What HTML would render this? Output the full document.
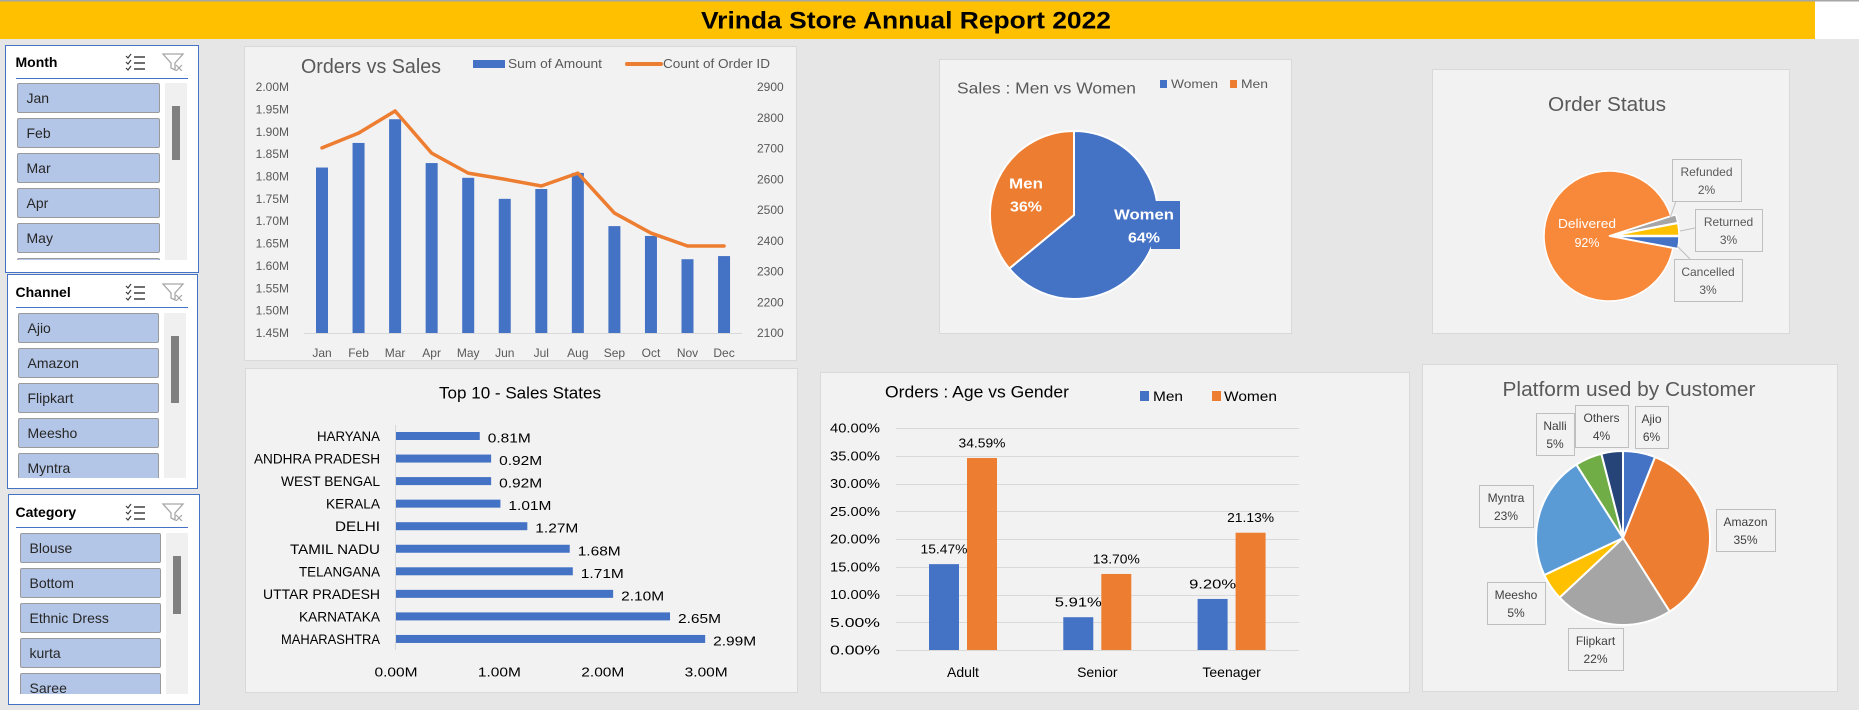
<!DOCTYPE html>
<html><head><meta charset="utf-8">
<style>
html,body{margin:0;padding:0;width:1859px;height:710px;overflow:hidden;background:#e6e6e6;font-family:"Liberation Sans",sans-serif;}
#root{position:relative;width:1859px;height:710px;}
svg{position:absolute;left:0;top:0;}
.slicer{position:absolute;background:#fff;border:1.5px solid #4472c4;box-sizing:border-box;}
.sl-head{position:absolute;font-weight:bold;font-size:14px;color:#000;}
.sl-line{position:absolute;height:1px;background:#4472c4;}
.sl-list{position:absolute;overflow:hidden;}
.sl-item{position:absolute;left:0;height:30px;box-sizing:border-box;background:#b4c6e7;border:1px solid #9a9a9a;border-radius:2px;font-size:14px;color:#262626;line-height:28px;padding-left:9px;}
.sl-track{position:absolute;background:#f0f0f0;}
.sl-thumb{position:absolute;background:#808080;}
</style></head>
<body>
<div id="root">
<svg id="chart" width="1859" height="710" viewBox="0 0 1859 710"></svg>
</div>
<script>
const NS='http://www.w3.org/2000/svg';
const svg=document.getElementById('chart');
const root=document.getElementById('root');

/* ---------- data ---------- */
const months=['Jan','Feb','Mar','Apr','May','Jun','Jul','Aug','Sep','Oct','Nov','Dec'];
const salesAmount=[1.82,1.875,1.928,1.83,1.797,1.75,1.772,1.808,1.689,1.667,1.615,1.622];
const orderCount=[2702,2750,2822,2685,2620,2600,2578,2620,2490,2425,2383,2383];
const leftTicks=[1.45,1.50,1.55,1.60,1.65,1.70,1.75,1.80,1.85,1.90,1.95,2.00];
const rightTicks=[2100,2200,2300,2400,2500,2600,2700,2800,2900];

const genderLabels=['Women','Men'];
const genderShares=[64,36];

const statusLabels=['Delivered','Refunded','Returned','Cancelled'];
const statusShares=[92,2,3,3];

const stateNames=['HARYANA','ANDHRA PRADESH','WEST BENGAL','KERALA','DELHI','TAMIL NADU','TELANGANA','UTTAR PRADESH','KARNATAKA','MAHARASHTRA'];
const stateSales=[0.81,0.92,0.92,1.01,1.27,1.68,1.71,2.10,2.65,2.99];
const stateTicks=[0,1,2,3];

const ageGroups=['Adult','Senior','Teenager'];
const menShare=[15.47,5.91,9.20];
const womenShare=[34.59,13.70,21.13];
const ageTicks=[0,5,10,15,20,25,30,35,40];

const platforms=['Ajio','Amazon','Flipkart','Meesho','Myntra','Nalli','Others'];
const platformShares=[6,35,22,5,23,5,4];

/* ---------- helpers ---------- */
function mk(tag,attrs,parent){const e=document.createElementNS(NS,tag);for(const k in attrs)e.setAttribute(k,attrs[k]);(parent||svg).appendChild(e);return e;}
function txt(x,y,s,size,anchor,fill,weight,len){const e=mk('text',{x:x,y:y,'font-size':size,'text-anchor':anchor||'start',fill:fill||'#595959','font-family':'"Liberation Sans",sans-serif','dominant-baseline':'central'});if(weight)e.setAttribute('font-weight',weight);if(len){e.setAttribute('textLength',len);e.setAttribute('lengthAdjust','spacingAndGlyphs');}e.textContent=s;return e;}
function panel(x,y,w,h){return mk('rect',{x:x+.5,y:y+.5,width:w,height:h,fill:'#f2f2f2',stroke:'#d9d9d9','stroke-width':1});}
function pt(cx,cy,r,a){const t=(a-90)*Math.PI/180;return [cx+r*Math.cos(t),cy+r*Math.sin(t)];}
function arc(cx,cy,r,a0,a1){const p0=pt(cx,cy,r,a0),p1=pt(cx,cy,r,a1);const large=(a1-a0)>180?1:0;return `M${cx},${cy} L${p0[0]},${p0[1]} A${r},${r} 0 ${large} 1 ${p1[0]},${p1[1]} Z`;}

/* ---------- title bar ---------- */
let el;
el=mk('rect',{x:0,y:0,width:1815,height:39,fill:'#ffc000'});


el=mk('rect',{x:0,y:0,width:1859,height:1.5,fill:'#a6a6a6'});


el=mk('rect',{x:1815,y:1.5,width:44,height:37.5,fill:'#ffffff'});


el=txt(906,21,'Vrinda Store Annual Report 2022',24,'middle','#000','bold',410);



/* ---------- Orders vs Sales ---------- */
el=panel(244,46,552,314);


el=txt(301,67,'Orders vs Sales',20,'start','#595959',null,140);


el=mk('rect',{x:473,y:60,width:32,height:8,fill:'#4472c4'});


el=txt(508,64,'Sum of Amount',12.5,'start','#595959',null,94);


el=mk('line',{x1:627,y1:64,x2:661,y2:64,stroke:'#ed7d31','stroke-width':4,'stroke-linecap':'round'});


el=txt(663,64,'Count of Order ID',12.5,'start','#595959',null,107);


const yL=v=>333-(v-1.45)/0.05*22.36;
const yR=v=>333-(v-2100)/100*30.75;
const xM=i=>322+i*36.55;
leftTicks.forEach(v=>{const t=txt(289,yL(v),v.toFixed(2)+'M',12,'end','#595959');

});
rightTicks.forEach(v=>{const t=txt(757,yR(v),String(v),12,'start','#595959');

});
el=mk('line',{x1:304,y1:333.5,x2:742,y2:333.5,stroke:'#d9d9d9','stroke-width':1});


months.forEach((m,i)=>{
const b=mk('rect',{x:xM(i)-6,y:yL(salesAmount[i]),width:12,height:333-yL(salesAmount[i]),fill:'#4472c4'});


const t=txt(xM(i),353,m,12,'middle','#595959');

});
el=mk('polyline',{points:orderCount.map((v,i)=>xM(i)+','+yR(v)).join(' '),fill:'none',stroke:'#ed7d31','stroke-width':3.5,'stroke-linejoin':'round','stroke-linecap':'round'});



/* ---------- Sales Men vs Women ---------- */
el=panel(939,59,352,274);


el=txt(957,89,'Sales : Men vs Women',16,'start','#595959',null,179);


el=mk('rect',{x:1160,y:80,width:7,height:8,fill:'#4472c4'});


el=txt(1171,84,'Women',12,'start','#595959',null,47);


el=mk('rect',{x:1230,y:80,width:7,height:8,fill:'#ed7d31'});


el=txt(1241,84,'Men',12,'start','#595959',null,27);


{let a=0;const cols=['#4472c4','#ed7d31'];
genderShares.forEach((v,i)=>{const a1=a+v*3.6;
const s=mk('path',{d:arc(1074,215,84,a,a1),fill:cols[i],stroke:'#fff','stroke-width':2});

a=a1;});}
el=mk('rect',{x:1151,y:201,width:29,height:48,fill:'#4472c4'});


el=txt(1144,215,genderLabels[0],15,'middle','#fff','bold',60);


el=txt(1144,238,genderShares[0]+'%',15,'middle','#fff','bold',32);


el=txt(1026,184,genderLabels[1],15,'middle','#fff','bold',34);


el=txt(1026,207,genderShares[1]+'%',15,'middle','#fff','bold',32);



/* ---------- Order Status ---------- */
el=panel(1432,69,357,264);


el=txt(1607,105,'Order Status',20,'middle','#595959',null,118);


{let a=100.8;const cols=['#f8893a','#a5a5a5','#ffc000','#4472c4'];
statusShares.forEach((v,i)=>{const a1=a+v*3.6;const mid=(a+a1)/2;const off=i===0?0:5;const c=pt(1609,236,off,mid);
const s=mk('path',{d:arc(c[0],c[1],65,a,a1),fill:cols[i],stroke:'#fff','stroke-width':1.5});

a=a1;});}
el=txt(1587,224,'Delivered',12.5,'middle','#fff',null,58);


el=txt(1587,243,statusShares[0]+'%',12.5,'middle','#fff');


[[1,1672,159,69],[2,1695,209,67],[3,1674,259,68]].forEach(c=>{
const g=mk('g',{});


mk('rect',{x:c[1]+.5,y:c[2]+.5,width:c[3],height:42,fill:'#f2f2f2',stroke:'#bfbfbf'},g);
const t1=txt(c[1]+c[3]/2,c[2]+13,statusLabels[c[0]],12,'middle','#595959');g.appendChild(t1);
const t2=txt(c[1]+c[3]/2,c[2]+31,statusShares[c[0]]+'%',12,'middle','#595959');g.appendChild(t2);});
el=mk('path',{d:'M1676,201 L1670,218 M1695,228 L1680,231 M1690,259 L1677,246',stroke:'#bfbfbf',fill:'none'});



/* ---------- Top 10 States ---------- */
el=panel(245,368,552,324);


el=txt(520,393,'Top 10 - Sales States',17,'middle','#000',null,162);


const xS=v=>396+v*103.4;
const yS=i=>436+i*22.55;
el=mk('line',{x1:395.5,y1:425,x2:395.5,y2:650,stroke:'#d9d9d9'});


stateNames.forEach((n,i)=>{
const t=txt(380,yS(i),n,14,'end','#000',null,n.length*9.0);


const b=mk('rect',{x:396,y:yS(i)-4,width:xS(stateSales[i])-396,height:8,fill:'#4472c4'});


const v=txt(xS(stateSales[i])+8,yS(i)+2,stateSales[i].toFixed(2)+'M',13,'start','#000',null,43);

});
stateTicks.forEach(v=>{const t=txt(xS(v),672,v.toFixed(2)+'M',13,'middle','#000',null,43);

});

/* ---------- Age vs Gender ---------- */
el=panel(820,372,589,320);


el=txt(885,392,'Orders : Age vs Gender',17,'start','#000',null,184);


el=mk('rect',{x:1140,y:391,width:9,height:10,fill:'#4472c4'});


el=txt(1153,396,'Men',14,'start','#000',null,30);


el=mk('rect',{x:1212,y:391,width:9,height:10,fill:'#ed7d31'});


el=txt(1224,396,'Women',14,'start','#000',null,53);


const yA=v=>650-v/5*27.75;
const gA=i=>896+134.3*i+67;
ageTicks.forEach(v=>{
const g=mk('line',{x1:896,y1:Math.round(yA(v))+.5,x2:1299,y2:Math.round(yA(v))+.5,stroke:'#d9d9d9'});


const t=txt(880,yA(v),v.toFixed(2)+'%',13,'end','#000',null,50);

});
ageGroups.forEach((n,i)=>{
const c=gA(i);
const bm=mk('rect',{x:c-34,y:yA(menShare[i]),width:30,height:650-yA(menShare[i]),fill:'#4472c4'});


const bw=mk('rect',{x:c+4,y:yA(womenShare[i]),width:30,height:650-yA(womenShare[i]),fill:'#ed7d31'});


const tm=txt(c-19,yA(menShare[i])-15,menShare[i].toFixed(2)+'%',13,'middle','#000',null,47);


const tw=txt(c+19,yA(womenShare[i])-15,womenShare[i].toFixed(2)+'%',13,'middle','#000',null,47);


const tl=txt(c,672,n,14,'middle','#000');

});

/* ---------- Platform ---------- */
el=panel(1422,364,415,327);


el=txt(1629,390,'Platform used by Customer',20,'middle','#595959',null,253);


{let a=0;const cols=['#4472c4','#ed7d31','#a5a5a5','#ffc000','#5b9bd5','#70ad47','#264478'];
platformShares.forEach((v,i)=>{const a1=a+v*3.6;
const s=mk('path',{d:arc(1623,538,87,a,a1),fill:cols[i],stroke:'#fff','stroke-width':2});

a=a1;});}
const boxes=[[0,1635,406,33],[1,1716,509,59],[2,1568,628,55],[3,1487,582,58],[4,1479,485,54],[5,1536,413,38],[6,1575,405,53]];
boxes.forEach(c=>{
const g=mk('g',{});


mk('rect',{x:c[1]+.5,y:c[2]+.5,width:c[3],height:42,fill:'#f2f2f2',stroke:'#bfbfbf'},g);
g.appendChild(txt(c[1]+c[3]/2,c[2]+13,platforms[c[0]],12,'middle','#404040'));
g.appendChild(txt(c[1]+c[3]/2,c[2]+31,platformShares[c[0]]+'%',12,'middle','#404040'));});

/* ---------- slicers ---------- */
function slicer(name,items,box,itemLeft,itemW,headY,lineY,listTop,listBottom,thumb){
const d=document.createElement('div');d.className='slicer';


d.style.cssText=`left:${box[0]}px;top:${box[1]}px;width:${box[2]}px;height:${box[3]}px;`;
root.appendChild(d);
const bx=box[0]+1.5,by=box[1]+1.5;
const h=document.createElement('div');h.className='sl-head';


h.textContent=name;h.style.left=(16-bx)+'px';h.style.top=(headY-8-by)+'px';d.appendChild(h);
const ic=document.createElementNS(NS,'svg');ic.setAttribute('width','62');ic.setAttribute('height','18');


ic.style.cssText=`position:absolute;left:${125-bx}px;top:${headY-9-by}px;`;
ic.innerHTML='<path d="M1,3 l2,2 l3,-4 M1,9 l2,2 l3,-4 M1,15 l2,2 l3,-4" stroke="#404040" fill="none" stroke-width="1.2"/><path d="M9,4h11M9,10h11M9,16h11" stroke="#404040" stroke-width="1.5"/><path d="M38,1h20l-8,9v7l-4,-2v-5z" fill="none" stroke="#a6a6a6" stroke-width="1.3"/><path d="M51,12l6,6M57,12l-6,6" stroke="#a6a6a6" stroke-width="1.2"/>';
d.appendChild(ic);
const ln=document.createElement('div');ln.className='sl-line';


ln.style.cssText=`left:${16-bx}px;top:${lineY-by}px;width:172px;`;d.appendChild(ln);
const list=document.createElement('div');list.className='sl-list';


list.style.cssText=`left:${itemLeft-bx}px;top:${listTop-by}px;width:${itemW}px;height:${listBottom-listTop}px;`;d.appendChild(list);
items.forEach((t,i)=>{const it=document.createElement('div');it.className='sl-item';


it.textContent=t;it.style.top=(i*35)+'px';it.style.width=itemW+'px';list.appendChild(it);});
const tr=document.createElement('div');tr.className='sl-track';


tr.style.cssText=`left:${itemLeft+itemW+5-bx}px;top:${listTop-by}px;width:22px;height:${listBottom-listTop}px;`;d.appendChild(tr);
const th=document.createElement('div');th.className='sl-thumb';


th.style.cssText=`left:${itemLeft+itemW+12-bx}px;top:${thumb[0]-by}px;width:8px;height:${thumb[1]-thumb[0]}px;`;d.appendChild(th);}
slicer('Month',['Jan','Feb','Mar','Apr','May','Jun'],[5,45,194,228],17,143,62,78,83,260,[106,160]);
slicer('Channel',['Ajio','Amazon','Flipkart','Meesho','Myntra'],[7,274,191,215],18,141,292,307,313,478,[336,403]);
slicer('Category',['Blouse','Bottom','Ethnic Dress','kurta','Saree'],[8,494,192,211],20,141,512,527,533,694,[556,614]);
</script>
</body></html>
